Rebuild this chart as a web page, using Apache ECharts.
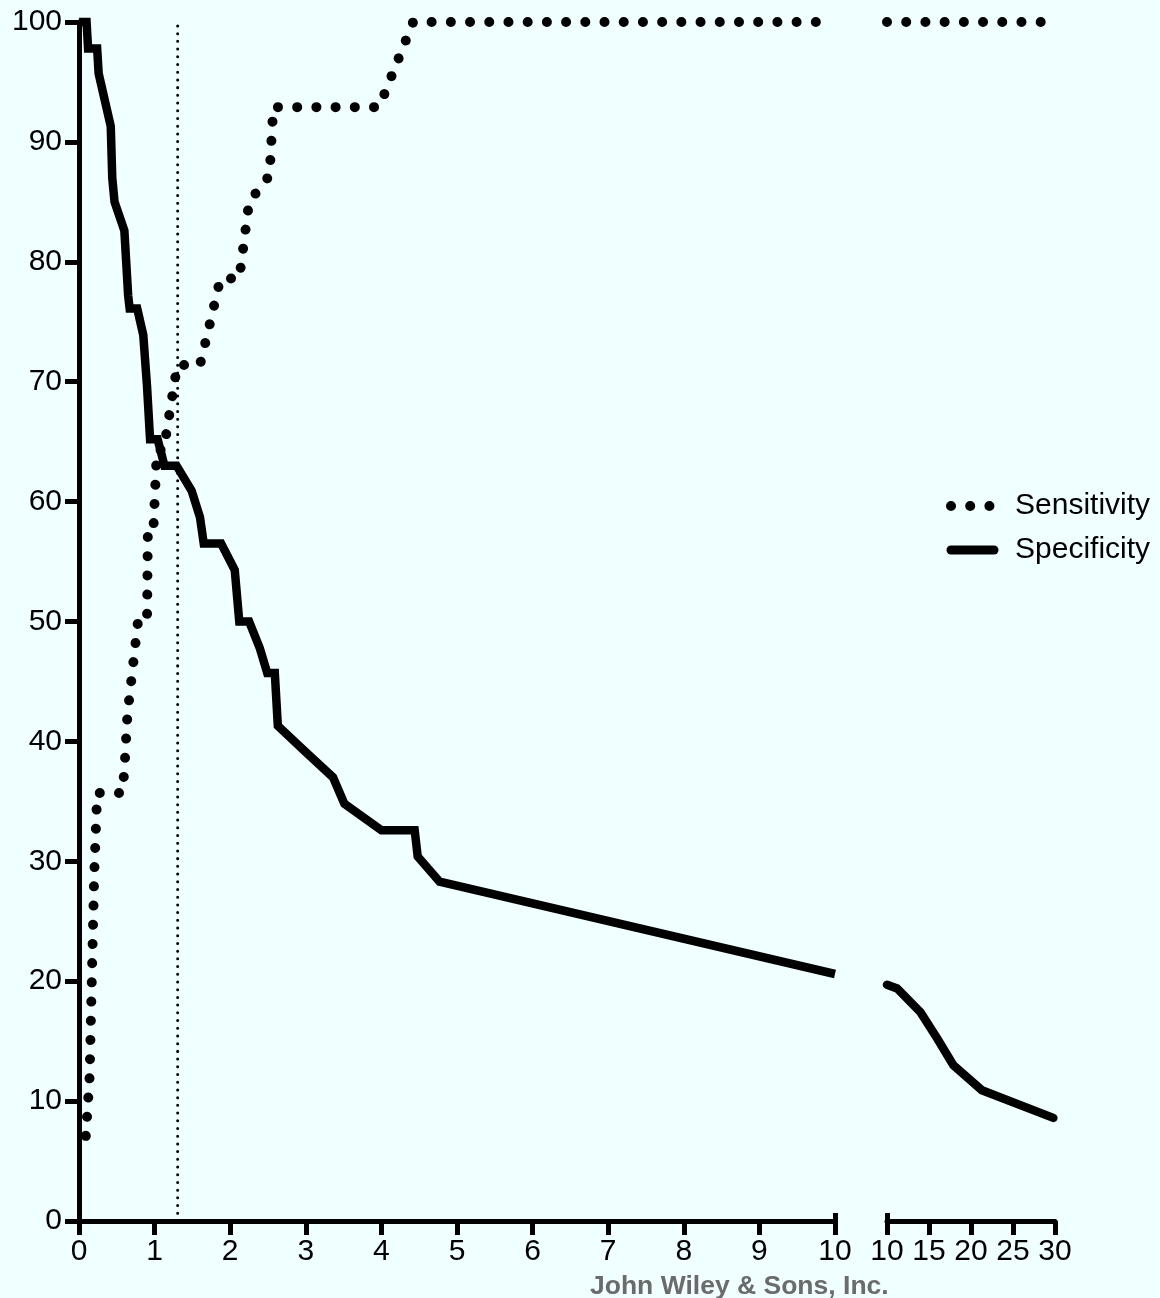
<!DOCTYPE html>
<html>
<head>
<meta charset="utf-8">
<script src="https://cdn.jsdelivr.net/npm/echarts@6/dist/echarts.min.js"></script>
<style>
  html, body { margin: 0; padding: 0; background: #f0ffff; }
  #chart { width: 1160px; height: 1298px; }
</style>
</head>
<body>
<div id="chart"></div>
<script>
// Sensitivity (%) against cut-off, low range 0–10
const sensLowX = [0.09, 0.14, 0.2, 0.24, 0.5, 0.57, 0.6, 0.64, 0.78, 0.9, 0.91, 0.98, 1.03, 1.12, 1.3, 1.6, 1.7, 1.87, 2.12, 2.25, 2.52, 2.57, 3.97, 4.42, 10];
const sensLowY = [7.1, 12.0, 28.6, 35.7, 35.7, 35.7, 37.5, 42.2, 50.0, 50.0, 57.1, 57.1, 64.3, 64.3, 71.4, 71.4, 74.0, 78.6, 78.6, 85.0, 87.2, 92.9, 92.9, 100, 100];
// Sensitivity, high range 10–30
const sensHighX = [10, 30];
const sensHighY = [100, 100];

// Specificity (%) against cut-off, low range 0–10
const specLowX = [0, 0.1, 0.12, 0.24, 0.26, 0.42, 0.44, 0.47, 0.6, 0.65, 0.67, 0.77, 0.85, 0.9, 0.94, 1.04, 1.13, 1.29, 1.49, 1.6, 1.65, 1.88, 2.06, 2.12, 2.25, 2.39, 2.49, 2.59, 2.63, 3.0, 3.36, 3.51, 4.0, 4.44, 4.48, 4.77, 10];
const specLowY = [100, 100, 97.8, 97.8, 95.7, 91.3, 87.0, 85.0, 82.6, 77.2, 76.1, 76.1, 73.9, 69.6, 65.2, 65.2, 63.0, 63.0, 60.9, 58.7, 56.5, 56.5, 54.3, 50.0, 50.0, 47.8, 45.7, 45.7, 41.3, 39.1, 37.0, 34.8, 32.6, 32.6, 30.4, 28.3, 20.6];
// Specificity, high range 10–30
const specHighX = [10, 11.2, 14, 16, 17.9, 21.3, 29.8];
const specHighY = [19.7, 19.4, 17.4, 15.2, 13.0, 10.9, 8.6];

// Chosen cut-off (vertical reference line)
const cutoff = 1.305;
const cutoffSpan = [0, 100];

const lowTicks = { min: 0, max: 10, interval: 1 };
const highTicks = { min: 10, max: 30, interval: 5 };
const yTicks = { min: 0, max: 100, interval: 10 };

const seriesNames = ['Sensitivity', 'Specificity'];
const creditText = 'John Wiley & Sons, Inc.';

const zip = (xs, ys) => xs.map((x, i) => [x, ys[i]]);

const FONT = '"Liberation Sans", Arial, Helvetica, sans-serif';
const INK = '#000';

const axisLineStyle = { show: true, onZero: false, lineStyle: { color: INK, width: 5 } };
const axisTickStyle = { show: true, length: 14, lineStyle: { color: INK, width: 5 } };
const labelStyle = { fontSize: 30, color: INK, fontFamily: FONT };

function xAxisMain(grid, ticks) {
  return {
    type: 'value', gridIndex: grid, position: 'bottom',
    min: ticks.min, max: ticks.max, interval: ticks.interval,
    axisLine: axisLineStyle,
    axisTick: axisTickStyle,
    axisLabel: Object.assign({ margin: 16 }, labelStyle),
    splitLine: { show: false }
  };
}
// Upward stub at the broken end of each axis segment
function xAxisBreak(grid, ticks) {
  return {
    type: 'value', gridIndex: grid, position: 'bottom',
    min: ticks.min, max: ticks.max, interval: ticks.interval,
    axisLine: { show: false },
    axisTick: { show: true, inside: true, length: 8, customValues: [10], lineStyle: { color: INK, width: 5 } },
    axisLabel: { show: false },
    splitLine: { show: false }
  };
}

const dotted = { color: INK, width: 10, type: [0.01, 19.2], cap: 'round' };
const solid = { color: INK, width: 8.5, type: 'solid', cap: 'butt', join: 'miter' };

const option = {
  backgroundColor: '#f0ffff',
  animation: false,
  title: {
    text: creditText,
    left: 585, top: 1268,
    textStyle: { fontSize: 26.5, fontWeight: 'bold', color: '#6b6b6b', fontFamily: FONT }
  },
  legend: {
    data: [
      { name: seriesNames[0], lineStyle: { color: INK, width: 10, type: [0.01, 19.2], cap: 'round' } },
      { name: seriesNames[1], lineStyle: { color: INK, width: 9, type: 'solid', cap: 'round' } }
    ],
    orient: 'vertical',
    left: 941, top: 486,
    itemWidth: 43, itemHeight: 30, itemGap: 14,
    selectedMode: false,
    itemStyle: { opacity: 0 },
    textStyle: { fontSize: 30, lineHeight: 30, color: INK, fontFamily: FONT, padding: [0, 0, 0, 16] }
  },
  grid: [
    { left: 79, top: 22, width: 756, height: 1199 },
    { left: 887, top: 22, width: 168, height: 1199 }
  ],
  xAxis: [
    xAxisMain(0, lowTicks),
    xAxisMain(1, highTicks),
    xAxisBreak(0, lowTicks),
    xAxisBreak(1, highTicks)
  ],
  yAxis: [
    {
      type: 'value', gridIndex: 0,
      min: yTicks.min, max: yTicks.max, interval: yTicks.interval,
      axisLine: axisLineStyle,
      axisTick: axisTickStyle,
      axisLabel: Object.assign({ margin: 17 }, labelStyle),
      splitLine: { show: false }
    },
    { type: 'value', gridIndex: 1, min: yTicks.min, max: yTicks.max, show: false, splitLine: { show: false } }
  ],
  series: [
    {
      name: seriesNames[0], type: 'line', xAxisIndex: 0, yAxisIndex: 0,
      data: zip(sensLowX, sensLowY), symbol: 'none', clip: false,
      itemStyle: { color: INK }, lineStyle: dotted, z: 3
    },
    {
      name: seriesNames[0], type: 'line', xAxisIndex: 1, yAxisIndex: 1,
      data: zip(sensHighX, sensHighY), symbol: 'none', clip: false,
      itemStyle: { color: INK }, lineStyle: dotted, z: 3
    },
    {
      name: seriesNames[1], type: 'line', xAxisIndex: 0, yAxisIndex: 0,
      data: zip(specLowX, specLowY), symbol: 'none', clip: false,
      itemStyle: { color: INK }, lineStyle: solid, z: 4
    },
    {
      name: seriesNames[1], type: 'line', xAxisIndex: 1, yAxisIndex: 1,
      data: zip(specHighX, specHighY), symbol: 'none', clip: false,
      itemStyle: { color: INK }, lineStyle: Object.assign({}, solid, { cap: 'round' }), z: 4
    },
    {
      name: 'cutoff', type: 'line', xAxisIndex: 0, yAxisIndex: 0,
      data: cutoffSpan.map(v => [cutoff, v]), symbol: 'none', clip: false,
      itemStyle: { color: INK },
      lineStyle: { color: INK, width: 3, type: [0.01, 7.7], cap: 'round' }, z: 2
    }
  ]
};

const chart = echarts.init(document.getElementById('chart'), null, { renderer: 'canvas' });
chart.setOption(option);
</script>
</body>
</html>
